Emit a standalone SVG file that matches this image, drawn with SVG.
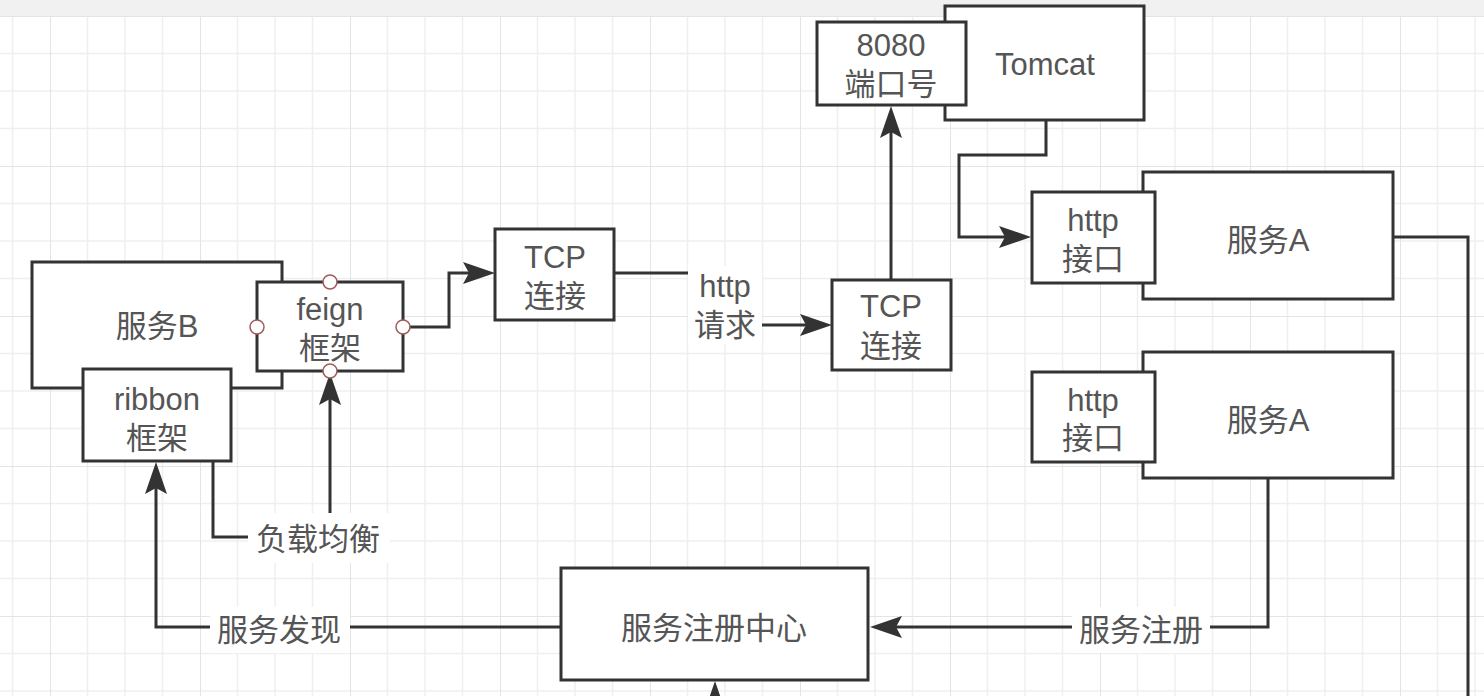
<svg xmlns="http://www.w3.org/2000/svg" width="1484" height="696" viewBox="0 0 1484 696">
<defs>
<pattern id="grid" patternUnits="userSpaceOnUse" x="50" y="16" width="150" height="150">
<path d="M37.5,0 V150 M75,0 V150 M112.5,0 V150 M0,37.5 H150 M0,75 H150 M0,112.5 H150" stroke="#efefef" stroke-width="1.5" fill="none"/>
<path d="M0,0 V150 M0,0 H150" stroke="#e4e4e4" stroke-width="2" fill="none"/>
</pattern>
<marker id="arr" markerUnits="userSpaceOnUse" viewBox="0 0 32 22" refX="22" refY="11" markerWidth="32" markerHeight="22" orient="auto">
<path d="M0,0 L32,11 L0,22 L6,11 Z" fill="#333"/>
</marker>
<style>
.box{fill:#fff;stroke:#333;stroke-width:3}
.t{font-family:"Liberation Sans","Noto Sans CJK SC",sans-serif;font-size:31px;fill:#555;text-anchor:middle;dominant-baseline:central}
.c{fill:none;stroke:#333;stroke-width:3}
.lb{fill:#fff}
.h{fill:#fff;stroke:#a05a5a;stroke-width:1.5}
</style>
</defs>
<rect x="0" y="0" width="1484" height="696" fill="#fff"/>
<rect x="0" y="16" width="1484" height="680" fill="url(#grid)"/>
<rect x="0" y="0" width="1484" height="16" fill="#f1f1f1"/>

<g id="connectors">
<path class="c" d="M403,327 H449 V273 H485" marker-end="url(#arr)"/>
<path class="c" d="M614,273 H725 V325 H822" marker-end="url(#arr)"/>
<path class="c" d="M891,280 V116" marker-end="url(#arr)"/>
<path class="c" d="M1046,120 V155 H959 V237 H1021" marker-end="url(#arr)"/>
<path class="c" d="M1393,237 H1468 V700"/>
<path class="c" d="M1268,478 V627 H880" marker-end="url(#arr)"/>
<path class="c" d="M561,627 H156 V472" marker-end="url(#arr)"/>
<path class="c" d="M213,461 V537 H330 V383" marker-end="url(#arr)"/>
<path class="c" d="M715,710 V691" marker-end="url(#arr)"/>
<g id="label-http">
<rect class="lb" x="688" y="266" width="74" height="78"/>
<text class="t" x="725" y="286">http</text>
<text class="t" x="725" y="325">请求</text>
</g>
<g id="label-lb">
<rect class="lb" x="248" y="513" width="142" height="50"/>
<text class="t" x="318" y="539">负载均衡</text>
</g>
<g id="label-discover">
<rect class="lb" x="210" y="607" width="140" height="46"/>
<text class="t" x="279" y="630">服务发现</text>
</g>
<g id="label-register">
<rect class="lb" x="1072" y="607" width="138" height="46"/>
<text class="t" x="1141" y="630">服务注册</text>
</g>
</g>

<g id="serviceB">
<rect class="box" x="32" y="262" width="250" height="126"/>
<text class="t" x="157" y="326">服务B</text>
</g>
<g id="ribbon">
<rect class="box" x="83" y="369" width="148" height="92"/>
<text class="t" x="157" y="399">ribbon</text>
<text class="t" x="157" y="438">框架</text>
</g>
<g id="feign">
<rect class="box" x="257" y="282" width="146" height="89"/>
<text class="t" x="330" y="309">feign</text>
<text class="t" x="330" y="348">框架</text>
<circle class="h" cx="330" cy="282" r="7"/>
<circle class="h" cx="257" cy="327" r="7"/>
<circle class="h" cx="403" cy="327" r="7"/>
<circle class="h" cx="330" cy="371" r="7"/>
</g>
<g id="tcp1">
<rect class="box" x="495" y="229" width="119" height="91"/>
<text class="t" x="555" y="257">TCP</text>
<text class="t" x="555" y="296">连接</text>
</g>
<g id="tcp2">
<rect class="box" x="832" y="280" width="119" height="90"/>
<text class="t" x="891" y="306">TCP</text>
<text class="t" x="891" y="346">连接</text>
</g>
<g id="tomcat">
<rect class="box" x="945" y="6" width="199" height="114"/>
<text class="t" x="1045" y="64">Tomcat</text>
</g>
<g id="port8080">
<rect class="box" x="817" y="22" width="149" height="83"/>
<text class="t" x="891" y="45">8080</text>
<text class="t" x="891" y="84">端口号</text>
</g>
<g id="serviceA1">
<rect class="box" x="1143" y="172" width="250" height="127"/>
<text class="t" x="1268" y="240">服务A</text>
</g>
<g id="http1">
<rect class="box" x="1032" y="192" width="123" height="91"/>
<text class="t" x="1093" y="220">http</text>
<text class="t" x="1093" y="259">接口</text>
</g>
<g id="serviceA2">
<rect class="box" x="1143" y="352" width="250" height="126"/>
<text class="t" x="1268" y="420">服务A</text>
</g>
<g id="http2">
<rect class="box" x="1032" y="372" width="123" height="90"/>
<text class="t" x="1093" y="400">http</text>
<text class="t" x="1093" y="438">接口</text>
</g>
<g id="registry">
<rect class="box" x="561" y="568" width="307" height="112"/>
<text class="t" x="714" y="628">服务注册中心</text>
</g>
</svg>
